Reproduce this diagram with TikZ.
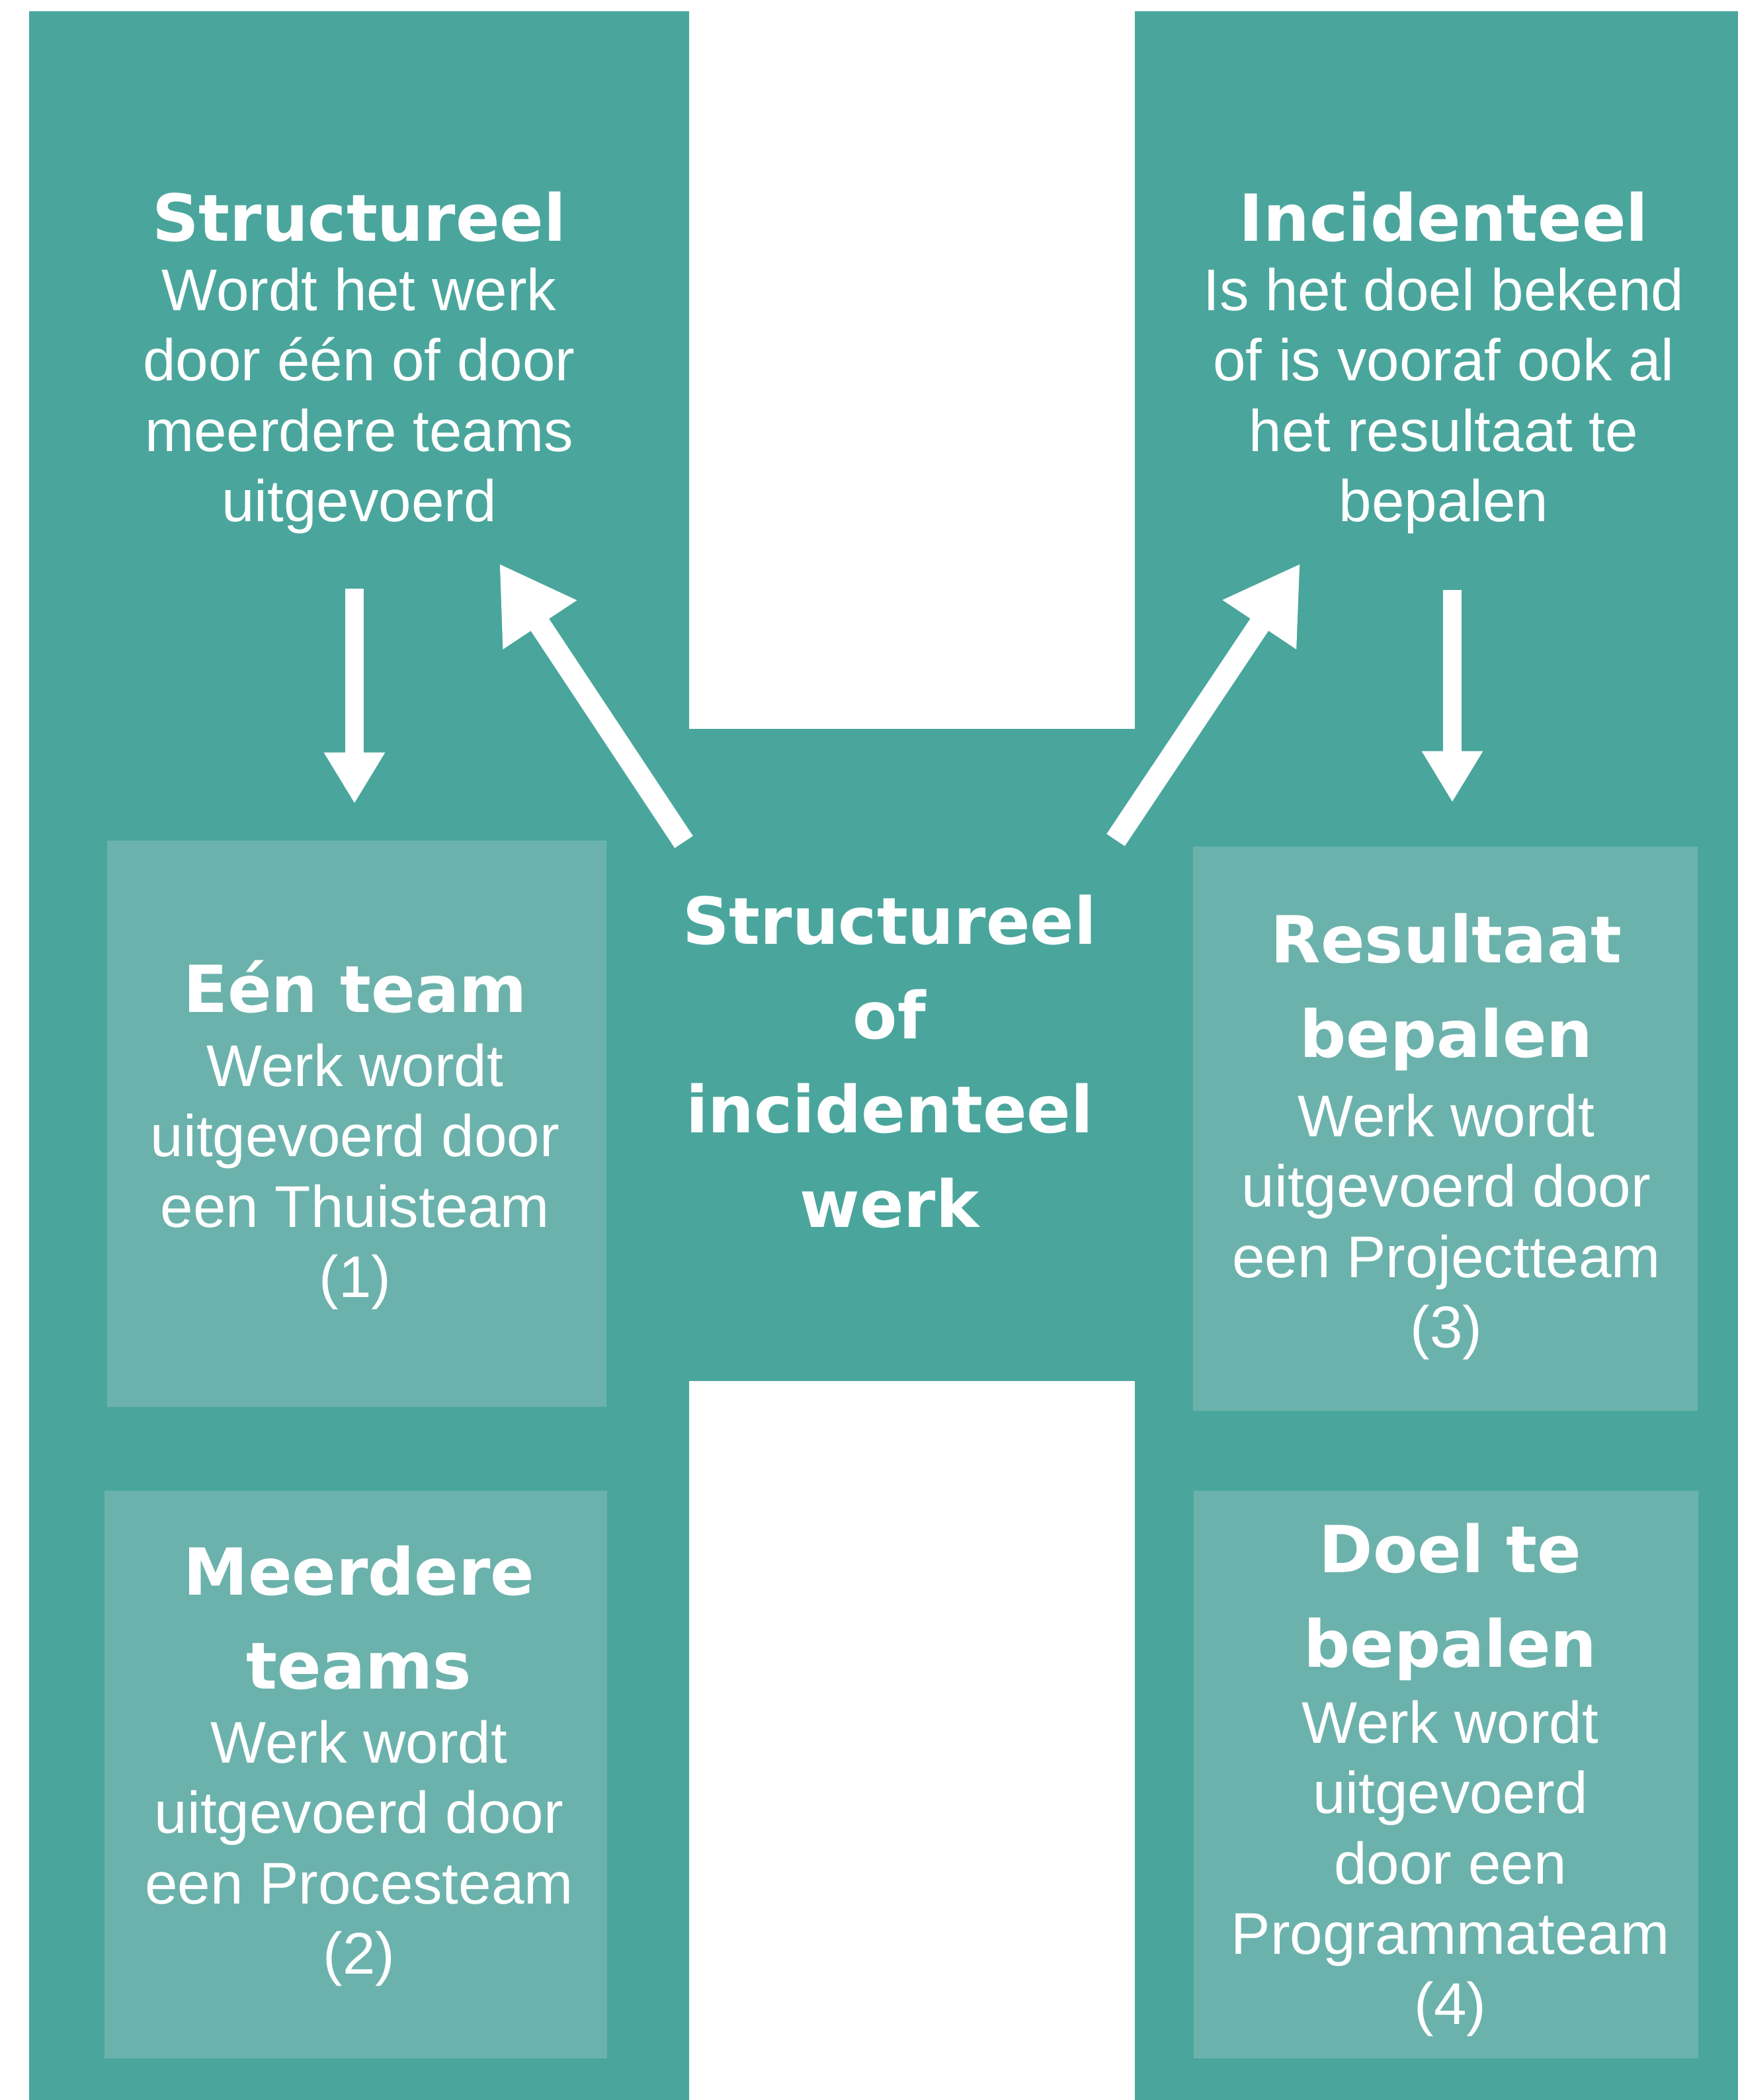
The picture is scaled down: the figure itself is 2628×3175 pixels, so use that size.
\documentclass[tikz,border=0pt]{standalone}
\usepackage{fontspec}
\setmainfont{Liberation Sans}
\newfontfamily\headfont{DejaVu Sans}
\usepackage{xcolor}
\usetikzlibrary{arrows.meta}
\definecolor{tealdark}{RGB}{74,166,156}
\definecolor{teallight}{RGB}{108,178,172}
\tikzset{
    headtext/.style={text=white, align=center, inner sep=0pt, font=\headfont\bfseries\fontsize{27.9}{40.5}\selectfont},
    bodytext/.style={text=white, align=center, inner sep=0pt, font=\fontsize{25.3}{30.2}\selectfont},
    downarrow/.style={white, line width=7.7pt, -{Triangle[width=24.7pt,length=22pt]}},
    diagarrow/.style={white, line width=9.4pt, -{Triangle[width=35.8pt,length=31.6pt]}},
    optionbox/.style={fill=teallight}
}

\begin{document}
\begin{tikzpicture}[x=0.01cm, y=-0.01cm]
    \useasboundingbox (0,0) rectangle (2628,3175);
    \fill[white] (0,0) rectangle (2628,3175);

    % H shape
    \fill[tealdark] (44,17) rectangle (1042,3175);
    \fill[tealdark] (1716,17) rectangle (2628,3175);
    \fill[tealdark] (1040,1102) rectangle (1718,2088);

    % lighter option boxes
    \fill[optionbox] (162,1271) rectangle (917,2127);
    \fill[optionbox] (158,2254) rectangle (918,3112);
    \fill[optionbox] (1804,1280) rectangle (2567,2133);
    \fill[optionbox] (1805,2254) rectangle (2568,3112);

    % top of the columns
    \node[headtext] (structhead) at (543,328) {Structureel};
    \node[bodytext] (structbody) at (543,606) {Wordt het werk\\door één of door\\meerdere teams\\uitgevoerd};
    \node[headtext] (incihead) at (2183,328) {Incidenteel};
    \node[bodytext] (incibody) at (2183,606) {Is het doel bekend\\of is vooraf ook al\\het resultaat te\\bepalen};

    % centre of the H
    \node[headtext] (choice) at (1345,1605) {Structureel\\of\\incidenteel\\werk};

    % left column
    \node[headtext] (onehead) at (537,1492) {Eén team};
    \node[bodytext] (onebody) at (537,1779) {Werk wordt\\uitgevoerd door\\een Thuisteam\\(1)};
    \node[headtext] (morehead) at (543,2446) {Meerdere\\teams};
    \node[bodytext] (morebody) at (543,2802) {Werk wordt\\uitgevoerd door\\een Procesteam\\(2)};

    % right column
    \node[headtext] (reshead) at (2187,1500) {Resultaat\\bepalen};
    \node[bodytext] (resbody) at (2187,1855) {Werk wordt\\uitgevoerd door\\een Projectteam\\(3)};
    \node[headtext] (goalhead) at (2193,2422) {Doel te\\bepalen};
    \node[bodytext] (goalbody) at (2193,2825) {Werk wordt\\uitgevoerd\\door een\\Programmateam\\(4)};

    % arrows
    \coordinate (sdtop) at (536,890);
    \coordinate (sdtip) at (536,1215);
    \coordinate (idtop) at (2196,892);
    \coordinate (idtip) at (2196,1213);
    \coordinate (ltail) at (1034,1273);
    \coordinate (ltip) at (755,852);
    \coordinate (rtail) at (1687,1270);
    \coordinate (rtip) at (1966,852);
    \draw[downarrow] (sdtop) -- (sdtip);
    \draw[downarrow] (idtop) -- (idtip);
    \draw[diagarrow] (ltail) -- (ltip);
    \draw[diagarrow] (rtail) -- (rtip);
\end{tikzpicture}
\end{document}
